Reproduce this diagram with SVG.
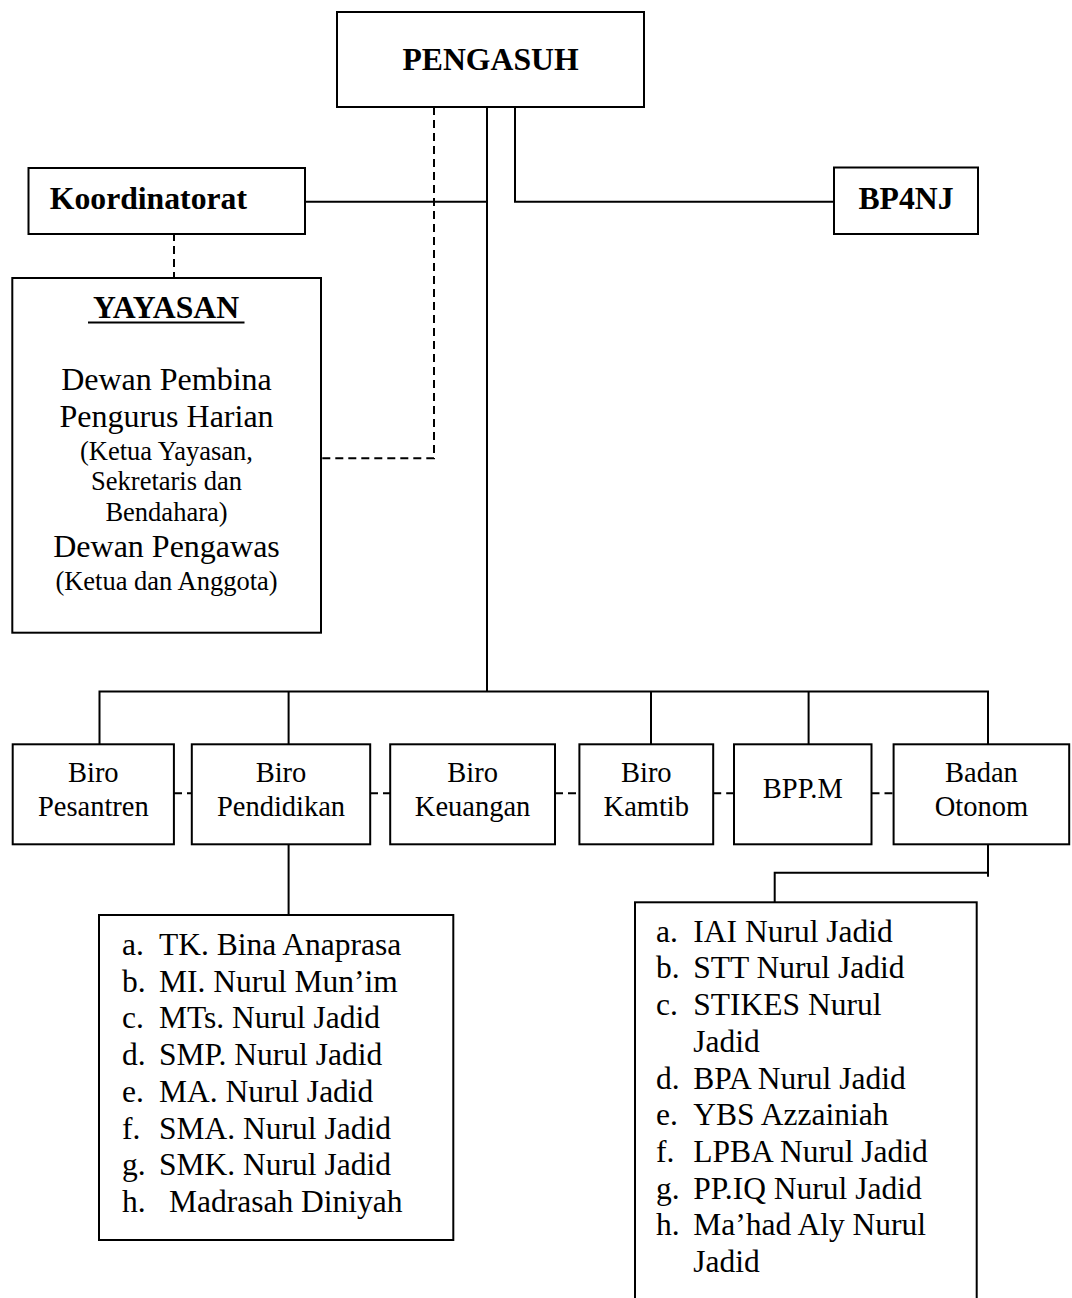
<svg xmlns="http://www.w3.org/2000/svg" width="1072" height="1298" viewBox="0 0 1072 1298">
<style>
.box{fill:#fff;stroke:#000;stroke-width:2}
.ln{fill:none;stroke:#000;stroke-width:2}
.dl{fill:none;stroke:#000;stroke-width:2;stroke-dasharray:8 5}
.t{font-family:"Liberation Serif","Times New Roman",serif;fill:#000}
.b{font-weight:bold;font-size:31.7px}
.m{font-size:32px}
.s{font-size:26.5px}
.r{font-size:28.5px}
.l{font-size:31.5px}
</style>
<rect width="1072" height="1298" fill="#fff"/>
<g id="connectors">
<path class="ln" d="M487 107V691.5M305 201.7H487M515 107V201.7H834"/>
<path class="dl" d="M434 107V458.3H321M174 233V278"/>
<path class="ln" d="M99.5 744V691.5H988V744M288.6 691.5V744M651 691.5V744M808.6 691.5V744"/>
<path class="dl" d="M174 793.3H192M370 793.3H390M555 793.3H579.4M713.2 793.3H734M871.5 793.3H893.6"/>
<path class="ln" d="M288.6 844.3V915M988 844.3V876.7M988 872.7H774.7V902.3"/>
</g>
<g id="pengasuh">
<rect class="box" x="337" y="12" width="307" height="95"/>
<text class="t b" x="490.5" y="70" text-anchor="middle">PENGASUH</text>
</g>
<g id="koordinatorat">
<rect class="box" x="28.5" y="168" width="276.5" height="66"/>
<text class="t b" x="49.8" y="209">Koordinatorat</text>
</g>
<g id="bp4nj">
<rect class="box" x="834" y="167.5" width="144" height="66.5"/>
<text class="t b" x="906" y="209" text-anchor="middle">BP4NJ</text>
</g>
<g id="yayasan">
<rect class="box" x="12.3" y="278" width="308.7" height="354.7"/>
<text class="t b" x="166" y="318" text-anchor="middle">YAYASAN</text>
<line x1="88" y1="322.5" x2="244.5" y2="322.5" stroke="#000" stroke-width="2.2"/>
<text class="t m" x="166.5" y="390" text-anchor="middle">Dewan Pembina</text>
<text class="t m" x="166.5" y="426.7" text-anchor="middle">Pengurus Harian</text>
<text class="t s" x="166.5" y="460" text-anchor="middle">(Ketua Yayasan,</text>
<text class="t s" x="166.5" y="490" text-anchor="middle">Sekretaris dan</text>
<text class="t s" x="166.5" y="520.7" text-anchor="middle">Bendahara)</text>
<text class="t m" x="166.5" y="556.7" text-anchor="middle">Dewan Pengawas</text>
<text class="t s" x="166.5" y="590" text-anchor="middle">(Ketua dan Anggota)</text>
</g>
<g id="biro-pesantren">
<rect class="box" x="12.7" y="744.3" width="161.2" height="100"/>
<text class="t r" x="93.3" y="781.7" text-anchor="middle">Biro</text>
<text class="t r" x="93.3" y="816" text-anchor="middle">Pesantren</text>
</g>
<g id="biro-pendidikan">
<rect class="box" x="191.8" y="744.3" width="178.4" height="100"/>
<text class="t r" x="281" y="781.7" text-anchor="middle">Biro</text>
<text class="t r" x="281" y="816" text-anchor="middle">Pendidikan</text>
</g>
<g id="biro-keuangan">
<rect class="box" x="390.2" y="744.3" width="164.8" height="100"/>
<text class="t r" x="472.6" y="781.7" text-anchor="middle">Biro</text>
<text class="t r" x="472.6" y="816" text-anchor="middle">Keuangan</text>
</g>
<g id="biro-kamtib">
<rect class="box" x="579.4" y="744.3" width="133.8" height="100"/>
<text class="t r" x="646.3" y="781.7" text-anchor="middle">Biro</text>
<text class="t r" x="646.3" y="816" text-anchor="middle">Kamtib</text>
</g>
<g id="bppm">
<rect class="box" x="734" y="744.3" width="137.5" height="100"/>
<text class="t r" x="802.8" y="798.3" text-anchor="middle">BPP.M</text>
</g>
<g id="badan-otonom">
<rect class="box" x="893.6" y="744.3" width="175.6" height="100"/>
<text class="t r" x="981.4" y="781.7" text-anchor="middle">Badan</text>
<text class="t r" x="981.4" y="816" text-anchor="middle">Otonom</text>
</g>
<g id="list-pendidikan">
<rect class="box" x="99" y="915" width="354.3" height="325"/>
<g class="t l">
<text x="122" y="955">a.</text><text x="159" y="955">TK. Bina Anaprasa</text>
<text x="122" y="991.7">b.</text><text x="159" y="991.7">MI. Nurul Mun’im</text>
<text x="122" y="1028.4">c.</text><text x="159" y="1028.4">MTs. Nurul Jadid</text>
<text x="122" y="1065.1">d.</text><text x="159" y="1065.1">SMP. Nurul Jadid</text>
<text x="122" y="1101.8">e.</text><text x="159" y="1101.8">MA. Nurul Jadid</text>
<text x="122" y="1138.5">f.</text><text x="159" y="1138.5">SMA. Nurul Jadid</text>
<text x="122" y="1175.2">g.</text><text x="159" y="1175.2">SMK. Nurul Jadid</text>
<text x="122" y="1211.9">h.</text><text x="169" y="1211.9">Madrasah Diniyah</text>
</g>
</g>
<g id="list-otonom">
<rect class="box" x="635" y="902.3" width="341.7" height="420"/>
<g class="t l">
<text x="656" y="941.7">a.</text><text x="693.3" y="941.7">IAI Nurul Jadid</text>
<text x="656" y="978.4">b.</text><text x="693.3" y="978.4">STT Nurul Jadid</text>
<text x="656" y="1015.1">c.</text><text x="693.3" y="1015.1">STIKES Nurul</text>
<text x="693.3" y="1051.8">Jadid</text>
<text x="656" y="1088.5">d.</text><text x="693.3" y="1088.5">BPA Nurul Jadid</text>
<text x="656" y="1125.2">e.</text><text x="693.3" y="1125.2">YBS Azzainiah</text>
<text x="656" y="1161.9">f.</text><text x="693.3" y="1161.9">LPBA Nurul Jadid</text>
<text x="656" y="1198.6">g.</text><text x="693.3" y="1198.6">PP.IQ Nurul Jadid</text>
<text x="656" y="1235.3">h.</text><text x="693.3" y="1235.3">Ma’had Aly Nurul</text>
<text x="693.3" y="1272">Jadid</text>
</g>
</g>
</svg>
